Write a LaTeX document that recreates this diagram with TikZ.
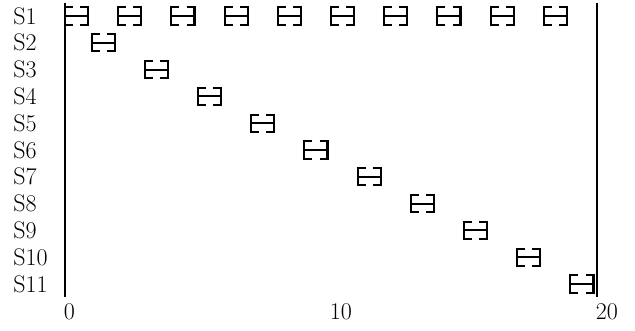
\documentclass[tikz,border=0pt]{standalone}
\usetikzlibrary{positioning}

\begin{document}
\begin{tikzpicture}[x=26.6pt, y=-26.8pt,
  lbl/.style={font=\fontsize{24}{24}\selectfont, inner sep=0pt},
  axis/.style={line width=2.8pt},
  job/.pic={
    \draw[line width=2.1pt] (0.3,-0.32) -- (0,-0.32) -- (0,0.32) -- (0.3,0.32);
    \draw[line width=2.1pt] (0.57,-0.32) -- (0.87,-0.32) -- (0.87,0.32) -- (0.57,0.32);
    \draw[line width=2.1pt] (0,0) -- (0.87,0);
  },
]
  \useasboundingbox (-2.444,0.403) rectangle (21.43,12.754);

  % Axes
  \draw[axis] (0,0.5) -- (0,11.5);
  \draw[axis] (20,0.5) -- (20,11.5);

  % Row labels
  \foreach \i in {1,...,11}
    \node[lbl, anchor=west] (s\i) at (-1.95,\i) {S\i};

  % Time labels
  \foreach \t in {0,10,20}
    \node[lbl, anchor=west] (t\t) at (\t-0.05,12.03) {\t};

  % S1 runs every second slot
  \foreach \k in {0,2,...,18}
    \pic at (\k,1) {job};

  % S2 .. S11 once each
  \foreach \i in {2,...,11}
    \pic at ({2*(\i-2)+1},\i) {job};
\end{tikzpicture}
\end{document}
